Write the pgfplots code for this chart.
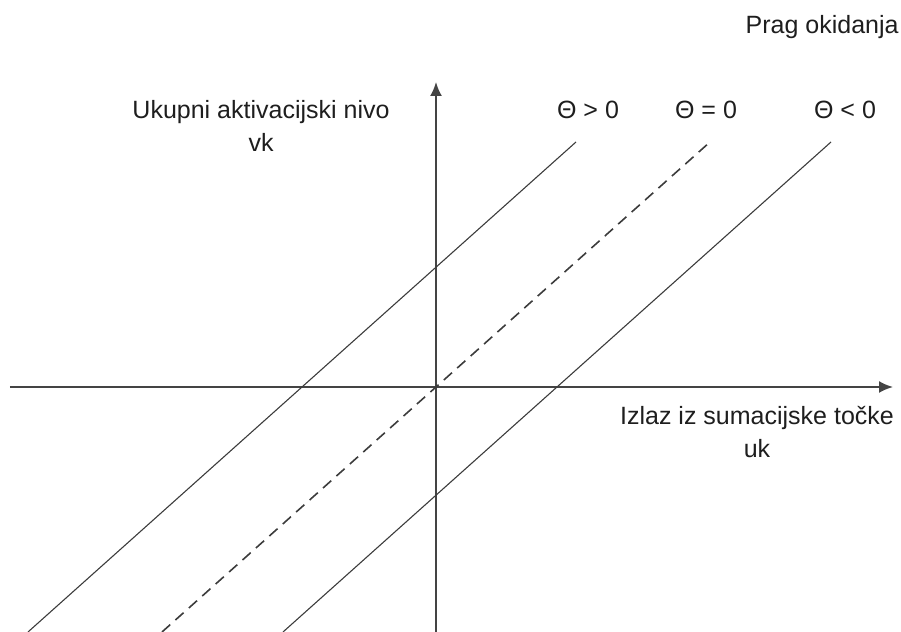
\documentclass[border=0pt]{standalone}
\usepackage{fontspec}
\setmainfont{Liberation Sans}
\usepackage{pgfplots}
\pgfplotsset{compat=1.18}
\usetikzlibrary{arrows.meta}
\definecolor{ln}{HTML}{3C3C3C}
\definecolor{ax}{HTML}{444444}
\definecolor{tx}{HTML}{1E1E1E}
\begin{document}
\begin{tikzpicture}[x=1pt,y=1pt]
\begin{axis}[
  at={(0,0)}, anchor=south west,
  scale only axis,
  width=441.5pt, height=275pt,
  xmin=-426, xmax=457, ymin=-245, ymax=305,
  axis lines=middle,
  axis line style={color=ax, line width=1pt, -{Latex[length=7pt,width=6pt]}},
  xtick=\empty, ytick=\empty,
  clip=false,
]
\addplot[color=ln, line width=0.55pt] coordinates {(-408,-245) (140,245)};
\addplot[color=ln, line width=0.8pt, dash pattern=on 5.5pt off 3.5pt] coordinates {(-274,-245) (274,245)};
\addplot[color=ln, line width=0.55pt] coordinates {(-153,-245) (395,245)};
\node[anchor=east, inner sep=0pt, text=tx, font=\fontsize{12.5}{16.5}\selectfont] at (axis cs:463,360) {Prag okidanja};
\node[align=center, text=tx, font=\fontsize{12.5}{16.5}\selectfont] at (axis cs:-175,261) {Ukupni aktivacijski nivo\\vk};
\node[text=tx, font=\fontsize{12.5}{16.5}\selectfont] at (axis cs:152,277) {Θ > 0};
\node[text=tx, font=\fontsize{12.5}{16.5}\selectfont] at (axis cs:270,277) {Θ = 0};
\node[text=tx, font=\fontsize{12.5}{16.5}\selectfont] at (axis cs:409,277) {Θ < 0};
\node[align=center, text=tx, font=\fontsize{12.5}{16.5}\selectfont] at (axis cs:321,-45) {Izlaz iz sumacijske točke\\uk};
\end{axis}
\pgfresetboundingbox
\path[use as bounding box] (-5pt,0pt) rectangle (445.5pt,316pt);
\end{tikzpicture}
\end{document}
